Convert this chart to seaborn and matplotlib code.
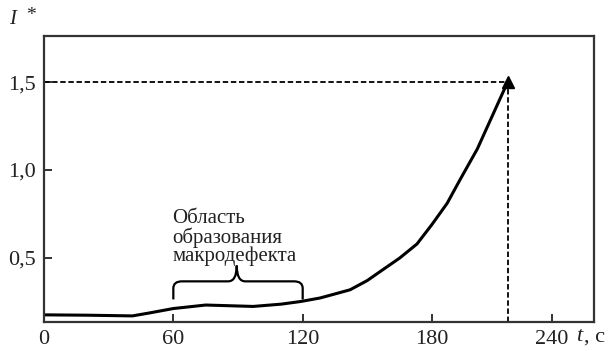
import numpy as np
import pandas as pd
import seaborn as sns
import matplotlib
matplotlib.use("Agg")
import matplotlib.pyplot as plt
from matplotlib.path import Path
from matplotlib.patches import PathPatch

# values
t_sec = [0, 20, 41, 49, 60, 75, 97, 110, 119, 128, 134, 142, 150, 157, 165,
         173, 180, 187, 193, 201, 208, 215]
i_rel = [0.174, 0.172, 0.168, 0.185, 0.21, 0.23, 0.222, 0.235, 0.25, 0.27, 0.29,
         0.317, 0.37, 0.43, 0.498, 0.578, 0.69, 0.81, 0.945, 1.12, 1.31, 1.5]
# the source drawing places the "240" tick a little short of the 60-step spacing
x_tick_pos = [0, 60, 120, 180, 235.7]
x_labels = ["0", "60", "120", "180", "240"]
y_ticks = [0.5, 1.0, 1.5]
y_labels = ["0,5", "1,0", "1,5"]
zone_start, zone_end = 60, 120
zone_text = "Область\nобразования\nмакродефекта"
peak_t, peak_i = 215, 1.5

sns.set_theme(style="ticks")
plt.rcParams["font.family"] = ["Liberation Serif", "DejaVu Serif"]
plt.rcParams["text.color"] = "#222222"

df = pd.DataFrame({"t": t_sec, "I": i_rel})

fig = plt.figure(figsize=(6.15, 3.51), dpi=100)
ax = fig.add_axes([0.0715, 0.083, 0.895, 0.814])

sns.lineplot(data=df, x="t", y="I", ax=ax, color="black", linewidth=2.2)

# peak marker and dashed guides
ax.plot([peak_t], [peak_i], marker="^", color="black", markersize=9, clip_on=False)
ax.plot([0, peak_t], [peak_i, peak_i], color="black", linestyle=(0, (3, 1.5)), linewidth=1.3)
ax.plot([peak_t, peak_t], [0.134, peak_i], color="black", linestyle=(0, (3, 1.5)), linewidth=1.3)

# curly brace over the defect zone
mid = (zone_start + zone_end) / 2 - 0.6
y0, y1, y2 = 0.262, 0.365, 0.455
r = 4
verts = [
    (zone_start, y0), (zone_start, y1 - 0.04),
    (zone_start, y1), (zone_start + r, y1),
    (mid - r, y1),
    (mid, y1), (mid, y2),
    (mid, y1), (mid + r, y1),
    (zone_end - r, y1),
    (zone_end, y1), (zone_end, y1 - 0.04),
    (zone_end, y0),
]
codes = [Path.MOVETO, Path.LINETO,
         Path.CURVE3, Path.CURVE3,
         Path.LINETO,
         Path.CURVE3, Path.CURVE3,
         Path.CURVE3, Path.CURVE3,
         Path.LINETO,
         Path.CURVE3, Path.CURVE3,
         Path.LINETO]
ax.add_patch(PathPatch(Path(verts, codes), facecolor="none", edgecolor="black", linewidth=1.6))
ax.text(zone_start - 0.5, 0.775, zone_text, fontsize=15, ha="left", va="top",
        linespacing=0.93)

ax.set_xlim(0, 255.3)
ax.set_ylim(0.134, 1.763)
ax.set_xticks(x_tick_pos)
ax.set_xticklabels(x_labels)
ax.set_yticks(y_ticks)
ax.set_yticklabels(y_labels)
ax.set_xlabel("")
ax.set_ylabel("")
ax.tick_params(direction="in", length=6, width=1.3, labelsize=16, colors="#222222", pad=6)
for s in ax.spines.values():
    s.set_linewidth(1.6)
    s.set_color("#333333")

fig.text(0.015, 0.945, "I", fontsize=15, fontstyle="italic", ha="left", va="center")
fig.text(0.042, 0.955, "*", fontsize=14, ha="left", va="center")
fig.text(0.936, 0.04, "t", fontsize=16, fontstyle="italic", ha="left", va="center")
fig.text(0.950, 0.04, ", c", fontsize=16, ha="left", va="center")

fig.savefig("out.png", dpi=100)
